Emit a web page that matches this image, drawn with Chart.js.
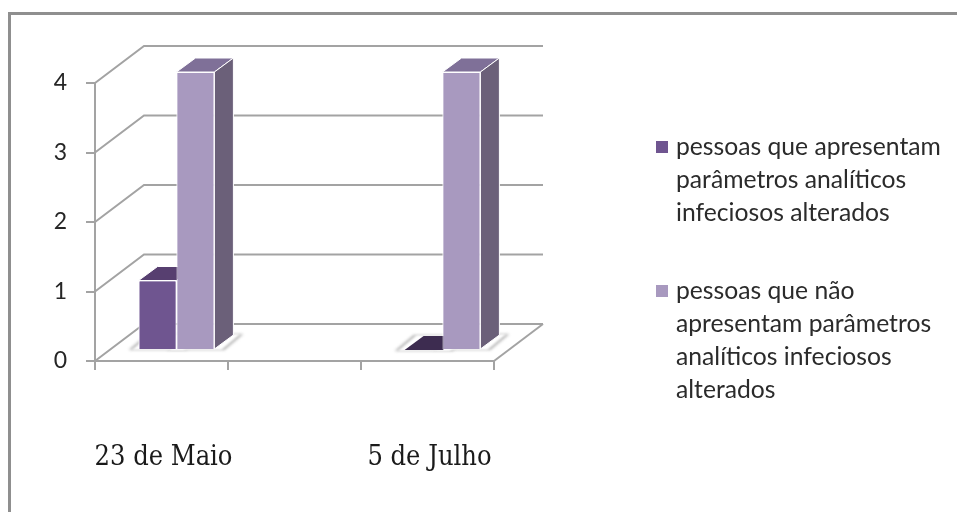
<!DOCTYPE html>
<html>
<head>
<meta charset="utf-8">
<script src="https://cdn.jsdelivr.net/npm/chart.js@4"></script>
<style>
  html, body { margin: 0; background: #fff; }
  #wrap { position: relative; width: 957px; height: 512px; }
  canvas { display: block; }
</style>
</head>
<body>
<div id="wrap"><canvas id="chart" width="957" height="512"></canvas></div>
<script>
const categories = ['23 de Maio', '', '5 de Julho'];
const alteredValues = [1, null, 0];
const normalValues = [4, null, 4];
const yTicks = [0, 1, 2, 3, 4];

// legend lines, wrapped by hand
const alteredLegend = ['pessoas que apresentam', 'parâmetros analíticos', 'infeciosos alterados'];
const normalLegend = ['pessoas que não', 'apresentam parâmetros', 'analíticos infeciosos', 'alterados'];

const AXIS_GREY = '#a3a3a3';
const DEPTH_X = 49, DEPTH_Y = -37;      // back wall offset from the axes
const FACE_X = 15, FACE_Y = -11;        // front of the bars sits inside the floor
const BAR_DX = 19, BAR_DY = -14;        // bar depth

function poly(ctx, pts, fill) {
    ctx.beginPath();
    pts.forEach((p, i) => i ? ctx.lineTo(p[0], p[1]) : ctx.moveTo(p[0], p[1]));
    ctx.closePath();
    ctx.fillStyle = fill;
    ctx.fill();
}

// footprint of a bar on the floor, grown by m pixels
function footprint(bar, m) {
    const hw = bar.width / 2;
    const b = bar.base + FACE_Y;
    return [
        [bar.x - hw - m + FACE_X, b + 1],
        [bar.x + hw + m + FACE_X, b + 1],
        [bar.x + hw + m + FACE_X + BAR_DX, b + BAR_DY - 1],
        [bar.x - hw - m + FACE_X + BAR_DX, b + BAR_DY - 1]
    ];
}

function eachBar(chart, fn) {
    chart.data.datasets.forEach((ds, i) => {
        chart.getDatasetMeta(i).data.forEach((bar, j) => {
            if (ds.data[j] !== null) fn(bar, ds, i, j);
        });
    });
}

// gridlines on the back wall, the side wall and the floor
const wallsPlugin = {
    id: 'walls',
    beforeDatasetsDraw(chart) {
        const { ctx, scales: { x, y } } = chart;
        const left = x.left, right = x.right, bottom = y.bottom;
        ctx.save();
        ctx.strokeStyle = AXIS_GREY;
        ctx.lineWidth = 2;
        yTicks.forEach(v => {
            const py = y.getPixelForValue(v);
            ctx.beginPath();
            ctx.moveTo(left, py);
            ctx.lineTo(left + DEPTH_X, py + DEPTH_Y);
            ctx.lineTo(right + DEPTH_X, py + DEPTH_Y);
            ctx.stroke();
        });
        ctx.beginPath();
        ctx.moveTo(right, bottom);
        ctx.lineTo(right + DEPTH_X, bottom + DEPTH_Y);
        ctx.stroke();
        ctx.restore();

        // soft shadow on the floor, a white patch on top leaves only its rim
        ctx.save();
        ctx.filter = 'blur(1.5px)';
        eachBar(chart, bar => poly(ctx, footprint(bar, 10), '#b4b4b4'));
        ctx.filter = 'blur(1px)';
        eachBar(chart, bar => poly(ctx, footprint(bar, 7), '#ffffff'));
        ctx.restore();

        // the bars are pushed into the floor for the depth effect
        ctx.save();
        ctx.translate(FACE_X, FACE_Y);
    },
    afterDatasetsDraw(chart) {
        const { ctx } = chart;
        eachBar(chart, (bar, ds, i, j) => {
            const hw = bar.width / 2;
            const l = bar.x - hw, r = bar.x + hw, t = bar.y, b = bar.base;
            ctx.lineWidth = 1;
            ctx.strokeStyle = '#ffffff';
            ctx.lineJoin = 'round';
            poly(ctx, [[l, t], [r, t], [r + BAR_DX, t + BAR_DY], [l + BAR_DX, t + BAR_DY]],
                ds.data[j] === 0 ? ds.flatColor : ds.topColor);
            if (ds.data[j] !== 0) ctx.stroke();
            // side is only seen on the last bar of the group
            if (i === chart.data.datasets.length - 1) {
                poly(ctx, [[r, t], [r + BAR_DX, t + BAR_DY], [r + BAR_DX, b + BAR_DY], [r, b]], ds.sideColor);
                ctx.stroke();
            }
        });
        // faces again, over the depth of the neighbouring bar
        eachBar(chart, (bar, ds, i, j) => {
            if (ds.data[j] !== 0) bar.draw(ctx);
        });
        ctx.restore();
    },
    afterDraw(chart) {
        const { ctx } = chart;
        // outer frame of the chart, open on the right and at the bottom
        ctx.save();
        ctx.strokeStyle = '#8f8f8f';
        ctx.lineWidth = 3;
        ctx.strokeRect(9.5, 13.5, 960, 600);
        ctx.restore();

        // legend
        ctx.save();
        ctx.font = '24.7px Lato';
        ctx.textBaseline = 'middle';
        const blocks = [[alteredLegend, 147, '#6f5590'], [normalLegend, 291, '#a899bf']];
        blocks.forEach(([lines, y0, color]) => {
            ctx.fillStyle = color;
            ctx.fillRect(656, y0 - 6, 12, 12);
            ctx.fillStyle = '#2b2b2b';
            lines.forEach((line, k) => ctx.fillText(line, 676, y0 + k * 33));
        });
        ctx.restore();
    }
};

new Chart(document.getElementById('chart'), {
    type: 'bar',
    data: {
        labels: categories,
        datasets: [
            { label: alteredLegend.join(' '), data: alteredValues, backgroundColor: '#6f5590', borderColor: '#ffffff', borderWidth: 1, topColor: '#573f70', sideColor: '#4a3862', flatColor: '#3d2c50' },
            { label: normalLegend.join(' '), data: normalValues, backgroundColor: '#a899bf', borderColor: '#ffffff', borderWidth: 1, topColor: '#7f7098', sideColor: '#6b6079', flatColor: '#7f7098' }
        ]
    },
    plugins: [wallsPlugin],
    options: {
        responsive: false,
        animation: false,
        layout: { padding: { left: 0, top: 83, right: 463, bottom: 0 } },
        plugins: { legend: { display: false }, tooltip: { enabled: false } },
        datasets: { bar: { categoryPercentage: 0.57, barPercentage: 1 } },
        scales: {
            x: {
                afterFit(scale) { scale.height = 151; },
                grid: { drawOnChartArea: false, color: AXIS_GREY, lineWidth: 2, tickLength: 9, offset: true },
                border: { color: AXIS_GREY, width: 2 },
                ticks: { padding: 72, labelOffset: 2, autoSkip: false, maxRotation: 0, color: '#1a1a1a', font: { family: 'DejaVu Serif Condensed, DejaVu Serif', size: 27 } }
            },
            y: {
                min: 0,
                max: 4,
                afterFit(scale) { scale.width = 95; },
                grid: { drawOnChartArea: false, color: AXIS_GREY, lineWidth: 2, tickLength: 9 },
                border: { color: AXIS_GREY, width: 2 },
                ticks: { stepSize: 1, padding: 19, color: '#262626', font: { family: 'Lato', size: 23 } }
            }
        }
    }
});
</script>
</body>
</html>
